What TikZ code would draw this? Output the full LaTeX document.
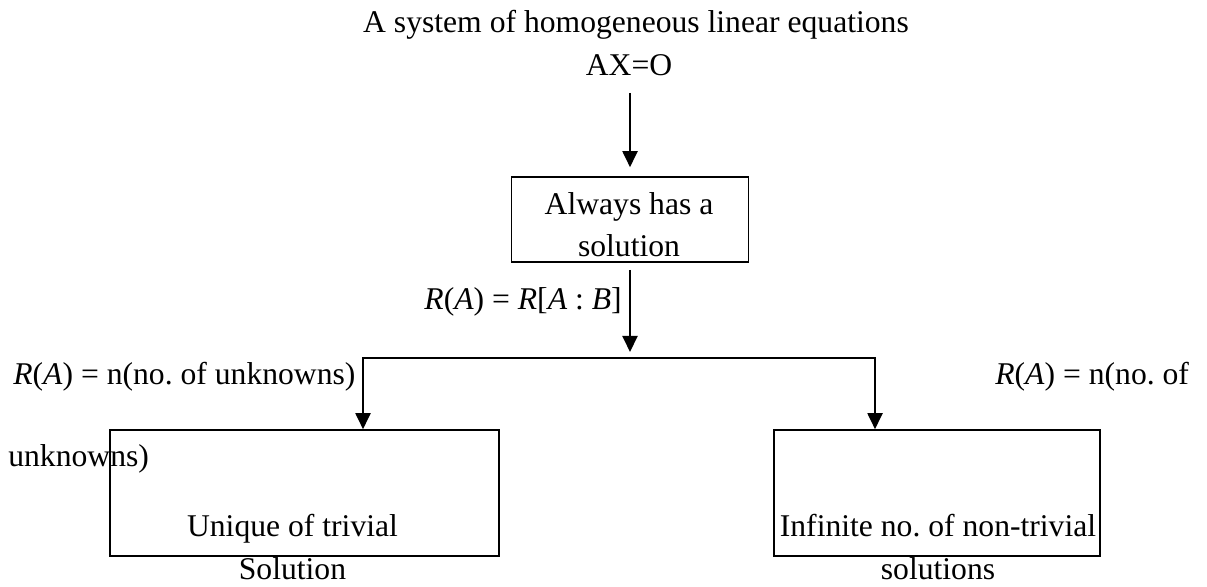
\documentclass[tikz,border=0pt]{standalone}
\usepackage{fontspec}
\setmainfont{Liberation Serif}
\frenchspacing
\usetikzlibrary{arrows.meta}
\tikzset{
  hsbox/.style={draw=black, line width=0.9pt, inner sep=0pt},
  hsline/.style={line width=1.1pt, draw=black, line cap=rect},
  hsarrow/.style={line width=1.1pt, draw=black, -{Triangle[length=0.32cm,width=0.30cm]}},
  hstext/.style={inner sep=0pt, font=\fontsize{18}{24}\selectfont, align=center},
}

\begin{document}
\begin{tikzpicture}
\useasboundingbox (0,0) rectangle (24.140,11.720);
\node[hsbox, minimum width=4.740cm, minimum height=1.700cm] (always) at (12.600,7.330) {};
\node[hsbox, minimum width=7.780cm, minimum height=2.520cm] (unique) at (6.090,1.860) {};
\node[hsbox, minimum width=6.520cm, minimum height=2.520cm] (infinite) at (18.740,1.860) {};
\node[hstext, anchor=base] (title) at (12.720,11.060) {A system of homogeneous linear equations};
\node[hstext, anchor=base] (axo) at (12.580,10.200) {AX=O};
\node[hstext, anchor=base] (alwaystxt) at (12.580,6.580) {Always has a\\solution};
\node[hstext, anchor=base east] (rankab) at (12.440,5.520) {\textit{R}(\textit{A}) = \textit{R}[\textit{A} : \textit{B}]};
\node[hstext, anchor=base west] (rankleft) at (0.260,4.020) {\textit{R}(\textit{A}) = n(no. of unknowns)};
\node[hstext, anchor=base west] (rankright) at (19.900,4.020) {\textit{R}(\textit{A}) = n(no. of};
\node[hstext, anchor=base west] (rankwrap) at (0.160,2.380) {unknowns)};
\node[hstext, anchor=base] (uniquetxt) at (5.850,0.140) {Unique of trivial\\Solution};
\node[hstext, anchor=base] (infinitetxt) at (18.760,0.140) {Infinite no. of non-trivial\\solutions};
\coordinate (axfoot) at (12.600,9.860);
\coordinate (split) at (12.600,4.560);
\coordinate (splitL) at (7.260,4.560);
\coordinate (splitR) at (17.500,4.560);
\draw[hsarrow, shorten >=0.18cm] (axfoot) -- (always.north);
\draw[hsarrow, shorten <=0.14cm, shorten >=0.12cm] (always.south) -- (split);
\draw[hsline] (splitL) -- (splitR);
\draw[hsarrow] (splitL) -- (splitL |- unique.north);
\draw[hsarrow] (splitR) -- (splitR |- infinite.north);
\end{tikzpicture}
\end{document}
